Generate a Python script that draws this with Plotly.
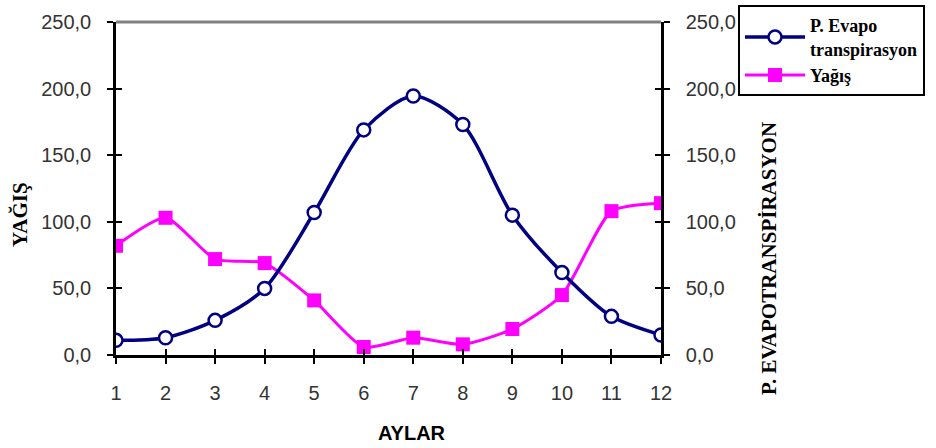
import plotly.graph_objects as go

months = [1, 2, 3, 4, 5, 6, 7, 8, 9, 10, 11, 12]
pet = [11, 13, 26, 50, 107, 169, 194.5, 173, 105, 62, 29, 15]
yagis = [82, 103, 72, 69, 41, 6, 13, 8, 19.5, 45, 108, 114]
y_ticks = [0, 50, 100, 150, 200, 250]

fig = go.Figure()
fig.add_trace(go.Scatter(
    x=months, y=pet, name="<b>P. Evapo<br>transpirasyon</b>", yaxis="y2",
    mode="lines+markers", line=dict(color="#000080", width=3.5, shape="spline", smoothing=0.8),
    marker=dict(symbol="circle", size=13, color="white", line=dict(color="#000080", width=2.5)),
))
fig.add_trace(go.Scatter(
    x=months, y=yagis, name="<b>Yağış</b>", yaxis="y",
    mode="lines+markers", line=dict(color="#FF00FF", width=3, shape="spline", smoothing=0.6),
    marker=dict(symbol="square", size=14, color="#FF00FF"),
))

tickfont = dict(family="Liberation Sans, Arial", size=20, color="#333333")
yax_common = dict(range=[0, 250], tickvals=y_ticks, tickformat=".1f", showgrid=False,
                  zeroline=False, showline=True, linecolor="black", linewidth=2.5,
                  ticks="outside", ticklen=6, tickwidth=2, tickcolor="black",
                  tickfont=tickfont, ticklabelstandoff=12)

fig.update_layout(
    width=936, height=448,
    margin=dict(l=116, r=275, t=22, b=93, autoexpand=False),
    plot_bgcolor="white", paper_bgcolor="white",
    separators=",.",
    showlegend=True,
    xaxis=dict(range=[1, 12], tickvals=months, showgrid=False, zeroline=False,
               showline=True, linecolor="black", linewidth=2.5,
               ticks="outside", ticklen=6, tickwidth=2, tickcolor="black",
               tickfont=tickfont, ticklabelstandoff=12),
    xaxis2=dict(range=[1, 12], overlaying="x", tickvals=months, showgrid=False,
                zeroline=False, showline=False, showticklabels=False,
                ticks="inside", ticklen=6, tickwidth=2, tickcolor="black", side="bottom"),
    yaxis=dict(**yax_common, side="left"),
    yaxis2=dict(**yax_common, side="right", overlaying="y"),
    yaxis3=dict(range=[0, 250], tickvals=y_ticks, overlaying="y", side="left",
                showgrid=False, zeroline=False, showline=False, showticklabels=False,
                ticks="inside", ticklen=6, tickwidth=2, tickcolor="black"),
    yaxis4=dict(range=[0, 250], tickvals=y_ticks, overlaying="y", side="right",
                showgrid=False, zeroline=False, showline=False, showticklabels=False,
                ticks="inside", ticklen=6, tickwidth=2, tickcolor="black"),
    legend=dict(x=(738 - 116) / 545, y=1 + (22 - 5) / 333, xref="paper", yref="paper",
                xanchor="left", yanchor="top",
                bordercolor="black", borderwidth=2, bgcolor="white",
                font=dict(family="Liberation Serif, Times New Roman", size=18, color="black"),
                tracegroupgap=0, itemwidth=60),
)

# dummy invisible traces to activate overlay tick axes
fig.add_trace(go.Scatter(x=[1], y=[0], xaxis="x2", yaxis="y3", mode="markers",
                         marker=dict(opacity=0), showlegend=False, hoverinfo="skip"))
fig.add_trace(go.Scatter(x=[1], y=[0], xaxis="x2", yaxis="y4", mode="markers",
                         marker=dict(opacity=0), showlegend=False, hoverinfo="skip"))

# top border
fig.add_shape(type="line", xref="paper", yref="paper", x0=0, x1=1, y0=1, y1=1,
              line=dict(color="#808080", width=3))

fig.add_annotation(text="<b>YAĞIŞ</b>", xref="paper", yref="paper",
                   x=(20 - 116) / 545, y=(355 - 215) / 333, textangle=-90, showarrow=False,
                   xanchor="center", yanchor="middle",
                   font=dict(family="Liberation Serif, Times New Roman", size=21, color="black"))
fig.add_annotation(text="<b>P. EVAPOTRANSPİRASYON</b>", xref="paper", yref="paper",
                   x=(769 - 116) / 545, y=(355 - 259) / 333, textangle=-90, showarrow=False,
                   xanchor="center", yanchor="middle",
                   font=dict(family="Liberation Serif, Times New Roman", size=21, color="black"))
fig.add_annotation(text="<b>AYLAR</b>", xref="paper", yref="paper",
                   x=(412 - 116) / 545, y=-(433 - 355) / 333, showarrow=False,
                   xanchor="center", yanchor="middle",
                   font=dict(family="Liberation Sans, Arial", size=20, color="black"))

fig.write_html("out.html")
